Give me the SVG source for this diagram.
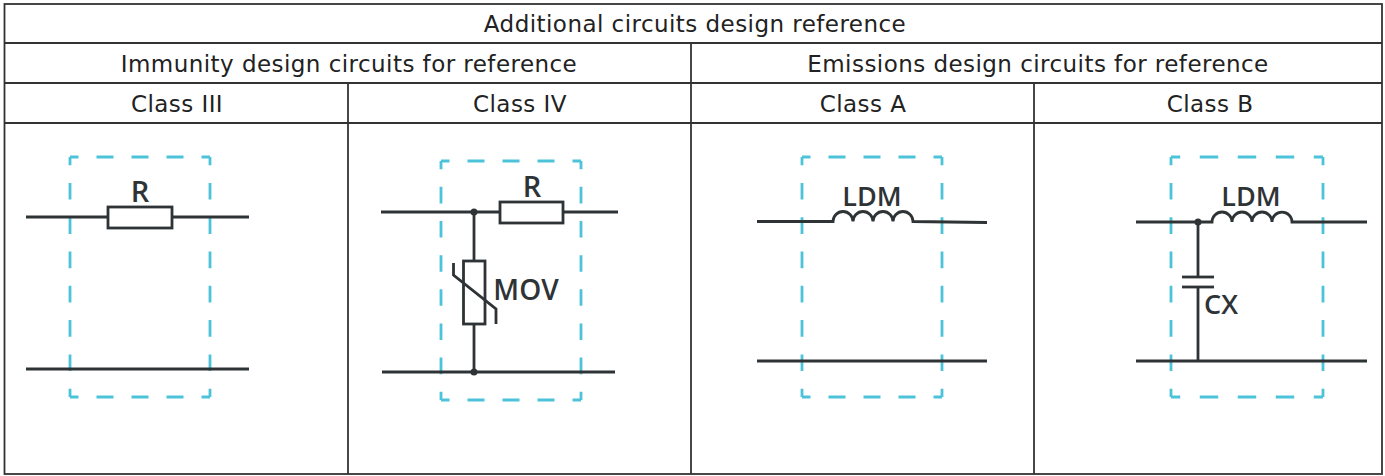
<svg xmlns="http://www.w3.org/2000/svg" width="1385" height="476" viewBox="0 0 1385 476">
<style>
.grid{stroke:#333;stroke-width:1.8;fill:none}
.hd{font-family:"DejaVu Sans","Liberation Sans",sans-serif;font-size:23px;letter-spacing:0.45px;fill:#222;text-anchor:middle}
.w{stroke:#2e3336;stroke-width:2.8;fill:none;stroke-linecap:butt}
.part{stroke:#2e3336;stroke-width:2.8;fill:#fff}
.dot{fill:#2e3336}
.lbl{font-family:"Open Sans","DejaVu Sans",sans-serif;font-weight:600;fill:#2e3336;text-anchor:middle}
.dash{stroke:#4cc3d9;stroke-width:2.8;fill:none;stroke-dasharray:17 18;stroke-dashoffset:8.5}
</style>
<rect width="1385" height="476" fill="#fff"/>
<g id="table">
<rect class="grid" x="4.5" y="4" width="1377.5" height="470"/>
<line class="grid" x1="4.5" y1="43" x2="1382" y2="43"/>
<line class="grid" x1="4.5" y1="83" x2="1382" y2="83"/>
<line class="grid" x1="4.5" y1="123" x2="1382" y2="123"/>
<line class="grid" x1="691" y1="43" x2="691" y2="474"/>
<line class="grid" x1="348" y1="83" x2="348" y2="474"/>
<line class="grid" x1="1034" y1="83" x2="1034" y2="474"/>
<text class="hd" x="695" y="31.5">Additional circuits design reference</text>
<text class="hd" x="349" y="71.5">Immunity design circuits for reference</text>
<text class="hd" x="1038" y="71.5">Emissions design circuits for reference</text>
<text class="hd" x="177" y="111.5">Class III</text>
<text class="hd" x="520" y="111.5">Class IV</text>
<text class="hd" x="863" y="111.5">Class A</text>
<text class="hd" x="1210" y="111.5">Class B</text>
</g>
<g id="class3">
<g class="dash">
<line x1="70" y1="157" x2="210" y2="157" pathLength="140"/>
<line x1="70" y1="397" x2="210" y2="397" pathLength="140"/>
<line x1="70" y1="157" x2="70" y2="397" pathLength="245"/>
<line x1="210" y1="157" x2="210" y2="397" pathLength="245"/>
</g>
<line class="w" x1="26" y1="217" x2="249" y2="217"/>
<rect class="part" x="108" y="207" width="64" height="21"/>
<text class="lbl" x="140" y="202" font-size="29">R</text>
<line class="w" x1="26" y1="369" x2="249" y2="369"/>
</g>
<g id="class4">
<g class="dash">
<line x1="441" y1="161" x2="581" y2="161" pathLength="140"/>
<line x1="441" y1="400" x2="581" y2="400" pathLength="140"/>
<line x1="441" y1="161" x2="441" y2="400" pathLength="245"/>
<line x1="581" y1="161" x2="581" y2="400" pathLength="245"/>
</g>
<line class="w" x1="381" y1="212" x2="618" y2="212"/>
<rect class="part" x="500" y="202" width="63" height="21"/>
<text class="lbl" x="532" y="197" font-size="29">R</text>
<line class="w" x1="474" y1="212" x2="474" y2="372"/>
<rect class="part" x="463.5" y="261" width="21.5" height="63"/>
<path class="w" d="M453.5 263 V275 L496 309 V324"/>
<text class="lbl" x="526" y="300" font-size="28">MOV</text>
<line class="w" x1="382" y1="372" x2="615" y2="372"/>
<circle class="dot" cx="474" cy="212" r="3.5"/>
<circle class="dot" cx="474" cy="372" r="3.5"/>
</g>
<g id="classA">
<g class="dash">
<line x1="802" y1="157" x2="942" y2="157" pathLength="140"/>
<line x1="802" y1="397" x2="942" y2="397" pathLength="140"/>
<line x1="802" y1="157" x2="802" y2="397" pathLength="245"/>
<line x1="942" y1="157" x2="942" y2="397" pathLength="245"/>
</g>
<path class="w" d="M757 221.5 H833 a10 10 0 0 1 20 0 a10 10 0 0 1 20 0 a10 10 0 0 1 20 0 a10 10 0 0 1 20 0 L987 222.5"/>
<text class="lbl" x="872" y="206" font-size="27">LDM</text>
<line class="w" x1="757" y1="361" x2="987" y2="361"/>
</g>
<g id="classB">
<g class="dash">
<line x1="1171" y1="157" x2="1323" y2="157" pathLength="140"/>
<line x1="1171" y1="397" x2="1323" y2="397" pathLength="140"/>
<line x1="1171" y1="157" x2="1171" y2="397" pathLength="245"/>
<line x1="1323" y1="157" x2="1323" y2="397" pathLength="245"/>
</g>
<path class="w" d="M1136 222 H1212 a10 10 0 0 1 20 0 a10 10 0 0 1 20 0 a10 10 0 0 1 20 0 a10 10 0 0 1 20 0 H1367"/>
<text class="lbl" x="1251" y="206" font-size="27">LDM</text>
<line class="w" x1="1198" y1="222" x2="1198" y2="277"/>
<line class="w" x1="1182" y1="277" x2="1214" y2="277"/>
<line class="w" x1="1182" y1="287" x2="1214" y2="287"/>
<line class="w" x1="1198" y1="287" x2="1198" y2="361"/>
<text class="lbl" x="1221" y="314" font-size="27">CX</text>
<line class="w" x1="1136" y1="361" x2="1367" y2="361"/>
<circle class="dot" cx="1198" cy="222" r="3.5"/>
</g>
</svg>
